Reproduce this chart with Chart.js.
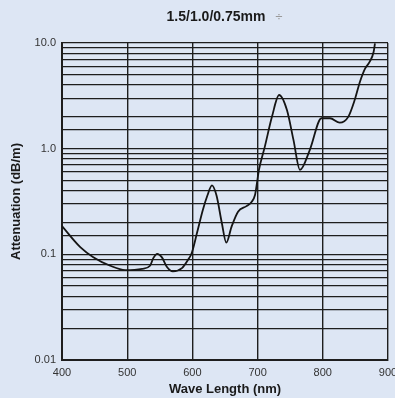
<!DOCTYPE html>
<html lang="en">
<head>
    <meta charset="UTF-8">
    <title>Attenuation vs Wave Length</title>
    <script src="https://cdn.jsdelivr.net/npm/chart.js"></script>
    <style>
        body { margin: 0; background: #dde6f4; }
    </style>
</head>
<body>
    <canvas id="attChart" width="395" height="398"></canvas>

    <script>
        // values
        const waveLength = [400, 428, 448, 474, 497, 523, 535, 540, 546, 553, 561, 570, 584, 593, 599, 607, 616, 623, 630, 637, 645, 652, 660, 670, 683, 691, 696, 699, 702, 711, 722, 733, 745, 755, 765, 780, 798, 811, 826, 839, 849, 857, 865, 872, 878, 880];
        const attenuation = [0.185, 0.117, 0.094, 0.078, 0.071, 0.073, 0.078, 0.092, 0.101, 0.094, 0.076, 0.069, 0.074, 0.088, 0.103, 0.159, 0.263, 0.36, 0.45, 0.36, 0.2, 0.129, 0.182, 0.253, 0.286, 0.315, 0.364, 0.473, 0.628, 1.04, 2.0, 3.22, 2.32, 1.21, 0.63, 0.97, 1.94, 1.94, 1.76, 2.0, 2.9, 4.3, 5.75, 6.65, 8.27, 9.9];

        const yTickValues = [0.01, 0.1, 1, 10];
        const yTickLabels = ['0.01', '0.1', '1.0', '10.0'];
        const xTickValues = [400, 500, 600, 700, 800, 900];

        const gridColor = '#1e1e1e';
        const tickFont = { family: '"Liberation Sans Narrow", "Liberation Sans", Arial, sans-serif', size: 11 };
        const titleFont = { family: '"Liberation Sans", Arial, sans-serif', size: 13, weight: 'bold' };

        // paint the paper colour and the chart title
        const paper = {
            id: 'paper',
            beforeDraw(chart) {
                const c = chart.ctx;
                c.save();
                c.fillStyle = '#dde6f4';
                c.fillRect(0, 0, chart.width, chart.height);
                c.restore();
            },
            afterDraw(chart) {
                const c = chart.ctx;
                c.save();
                c.fillStyle = '#1a1a1a';
                c.font = 'bold 14px "Liberation Sans", Arial, sans-serif';
                c.textAlign = 'center';
                c.textBaseline = 'middle';
                c.fillText('1.5/1.0/0.75mm', 216, 17);
                c.fillStyle = '#9a9a9a';
                c.font = '10px "DejaVu Sans", sans-serif';
                c.fillText('÷', 279, 17);
                c.restore();
            }
        };

        const ctx = document.getElementById('attChart').getContext('2d');
        new Chart(ctx, {
            type: 'line',
            data: {
                datasets: [{
                    data: waveLength.map((w, i) => ({ x: w, y: attenuation[i] })),
                    borderColor: '#151515',
                    borderWidth: 1.8,
                    pointRadius: 0,
                    tension: 0.4,
                    cubicInterpolationMode: 'monotone',
                    fill: false
                }]
            },
            options: {
                responsive: false,
                animation: false,
                layout: { padding: { top: 43, right: 7, left: 0, bottom: 0 } },
                plugins: {
                    legend: { display: false },
                    tooltip: { enabled: false }
                },
                scales: {
                    x: {
                        type: 'linear',
                        min: 400,
                        max: 900,
                        afterBuildTicks(scale) {
                            scale.ticks = xTickValues.map(v => ({ value: v }));
                        },
                        afterFit(scale) {
                            scale.height = 38;
                            scale.paddingLeft = 0;
                            scale.paddingRight = 0;
                        },
                        grid: { color: gridColor, lineWidth: 1.4, drawTicks: false },
                        border: { color: gridColor, width: 2 },
                        ticks: {
                            color: '#333',
                            font: tickFont,
                            padding: 6,
                            maxRotation: 0
                        },
                        title: {
                            display: true,
                            text: 'Wave Length (nm)',
                            color: '#1a1a1a',
                            font: titleFont,
                            padding: { top: 0, bottom: 1 }
                        }
                    },
                    y: {
                        type: 'logarithmic',
                        min: 0.01,
                        max: 10,
                        afterFit(scale) {
                            scale.width = 62;
                        },
                        grid: { color: gridColor, lineWidth: 1.3, drawTicks: false },
                        border: { color: gridColor, width: 2 },
                        ticks: {
                            autoSkip: false,
                            color: '#333',
                            font: tickFont,
                            padding: 6,
                            callback(value) {
                                const i = yTickValues.findIndex(t => Math.abs(t - value) < t * 1e-6);
                                return i >= 0 ? yTickLabels[i] : '';
                            }
                        },
                        title: {
                            display: true,
                            text: 'Attenuation (dB/m)',
                            color: '#1a1a1a',
                            font: titleFont,
                            padding: { top: 9, bottom: 4 }
                        }
                    }
                }
            },
            plugins: [paper]
        });
    </script>
</body>
</html>
